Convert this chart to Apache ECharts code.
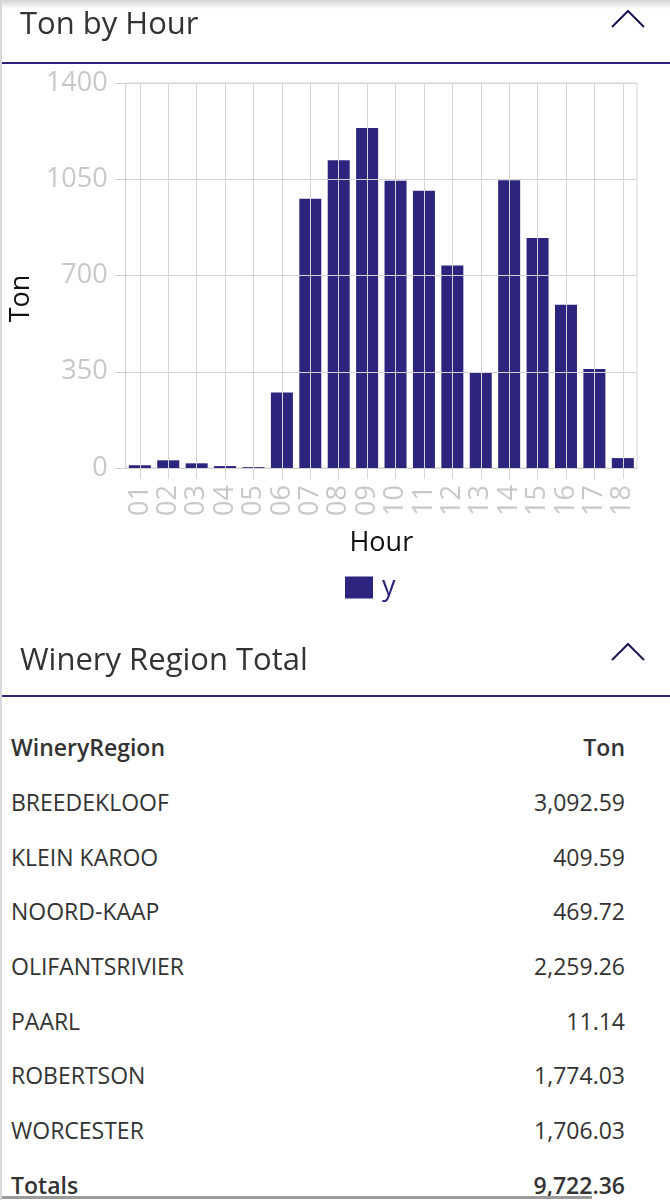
<!DOCTYPE html>
<html>
<head>
<meta charset="utf-8">
<title>Ton by Hour</title>
<script src="https://cdn.jsdelivr.net/npm/echarts@6/dist/echarts.min.js"></script>
<style>
  body { margin: 0; width: 670px; height: 1200px; background: #fff; position: relative; overflow: hidden;
         font-family: "Open Sans", "Noto Sans", sans-serif; color: #333; }
  .shadow { position: absolute; left: 0; top: 0; width: 670px; height: 9px; z-index: 3;
            background: linear-gradient(#d4d4d4, rgba(255,255,255,0)); }
  .leftline { position: absolute; left: 0; top: 0; width: 2px; height: 1200px; background: #d8d8d8; z-index: 3; }
  .head { position: absolute; left: 2px; width: 668px; border-bottom: 2px solid #2c247d; z-index: 2; }
  .head .t { position: absolute; left: 18px; font-size: 31px; line-height: 40px; color: #333; white-space: nowrap; }
  .head svg { position: absolute; left: 608px; }
  #chart { position: absolute; left: 0; top: 0; width: 670px; height: 620px; }
  #tbl { position: absolute; left: 11px; top: 720px; width: 614px; border-collapse: collapse; font-size: 23px; }
  #tbl td { height: 54.7px; padding: 0; white-space: nowrap; }
  #tbl td.v { text-align: right; }
  #tbl tr.hd td, #tbl tr.tot td { font-weight: 600; }
  .scroll { position: absolute; left: 0; top: 1196px; width: 592px; height: 3px; background: #9a9a9a; }
</style>
</head>
<body>
<div id="chart"></div>
<div class="shadow"></div>
<div class="leftline"></div>
<div class="head" style="top:0;height:62px">
  <div class="t" style="top:2px">Ton by Hour</div>
  <svg style="top:9px" width="36" height="20"><polyline points="2,18 18,2 34,18" fill="none" stroke="#1c1650" stroke-width="2"/></svg>
</div>
<div class="head" style="top:618px;height:77px">
  <div class="t" style="top:20px">Winery Region Total</div>
  <svg style="top:24px" width="36" height="20"><polyline points="2,18 18,2 34,18" fill="none" stroke="#1c1650" stroke-width="2"/></svg>
</div>
<table id="tbl"></table>
<div class="scroll"></div>
<script>
// Ton by Hour
const hours = ['01', '02', '03', '04', '05', '06', '07', '08', '09', '10', '11', '12', '13', '14', '15', '16', '17', '18'];
const tons = [10, 28, 17, 7, 3, 275, 979, 1119, 1236, 1045, 1008, 736, 349, 1046, 836, 594, 360, 36];
const yTicks = [0, 350, 700, 1050, 1400];

// Winery Region Total
const regions = ['BREEDEKLOOF', 'KLEIN KAROO', 'NOORD-KAAP', 'OLIFANTSRIVIER', 'PAARL', 'ROBERTSON', 'WORCESTER'];
const regionTons = [3092.59, 409.59, 469.72, 2259.26, 11.14, 1774.03, 1706.03];
const totalTon = 9722.36;

const barColor = '#2c247d';
const gridColor = '#d4d4d4';
const labelColor = '#c8c8c8';

let myChart = echarts.init(document.getElementById('chart'));
let option = {
    textStyle: { fontFamily: 'Open Sans' },
    animation: false,
    grid: {
        left: 122, top: 83, width: 515, height: 385,
        show: true, borderColor: gridColor, borderWidth: 1, backgroundColor: 'transparent'
    },
    legend: {
        data: ['y'],
        left: 340, top: 569,
        icon: 'rect', itemWidth: 28, itemHeight: 22,
        textStyle: { fontSize: 27, color: barColor, padding: [0, 0, 0, 4] }
    },
    xAxis: {
        type: 'category',
        data: hours,
        z: 5,
        name: 'Hour',
        nameLocation: 'middle',
        nameGap: 62,
        nameTextStyle: { fontSize: 27, color: '#111' },
        axisLine: { show: true, lineStyle: { color: gridColor } },
        axisTick: { show: true, alignWithLabel: true, length: 11, lineStyle: { color: gridColor } },
        splitLine: { show: true, alignWithLabel: true, lineStyle: { color: gridColor } },
        axisLabel: { rotate: 90, interval: 0, fontSize: 27, color: labelColor, margin: 17 }
    },
    yAxis: {
        type: 'value',
        min: yTicks[0], max: yTicks[yTicks.length - 1], interval: 350,
        z: 5,
        name: 'Ton',
        nameLocation: 'middle',
        nameGap: 85,
        nameTextStyle: { fontSize: 27, color: '#111', padding: [0, 46, 0, 0] },
        axisLine: { show: true, lineStyle: { color: gridColor } },
        axisTick: { show: true, length: 11, lineStyle: { color: gridColor } },
        splitLine: { show: true, lineStyle: { color: gridColor } },
        axisLabel: { fontSize: 27, color: labelColor, margin: 18, formatter: v => String(v) }
    },
    series: [{
        name: 'y',
        type: 'bar',
        data: tons,
        barWidth: 22,
        itemStyle: { color: barColor }
    }]
};
myChart.setOption(option);

// table
function fmt(v) {
    return v.toLocaleString('en-US', { minimumFractionDigits: 2, maximumFractionDigits: 2 });
}
let html = '<tr class="hd"><td>WineryRegion</td><td class="v">Ton</td></tr>';
for (let i = 0; i < regions.length; ++i) {
    html += '<tr><td>' + regions[i] + '</td><td class="v">' + fmt(regionTons[i]) + '</td></tr>';
}
html += '<tr class="tot"><td>Totals</td><td class="v">' + fmt(totalTon) + '</td></tr>';
document.getElementById('tbl').innerHTML = html;
</script>
</body>
</html>
